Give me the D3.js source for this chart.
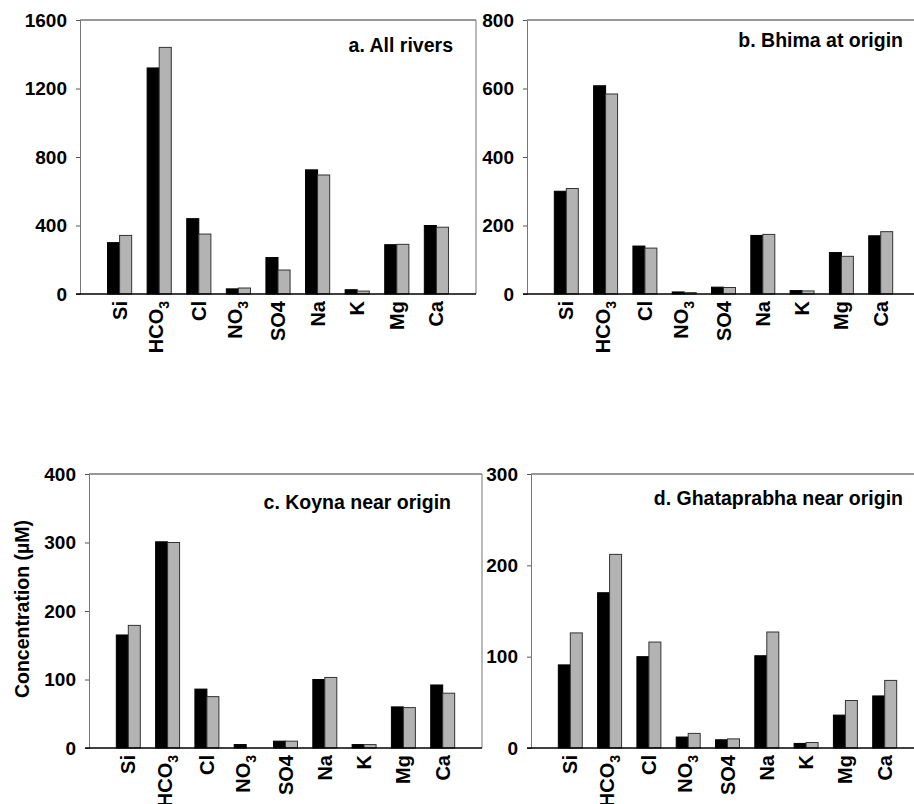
<!DOCTYPE html>
<html>
<head>
<meta charset="utf-8">
<script src="https://cdn.jsdelivr.net/npm/d3@7"></script>
<style>
  body { margin: 0; background: #fff; }
  svg { display: block; }
  text { font-family: Arial, "Liberation Sans", sans-serif; font-weight: bold; fill: #000; }
</style>
</head>
<body>
<svg width="914" height="804"></svg>
<script>
// ions on the x axis (main text + subscript)
let ions = ["Si", "HCO3", "Cl", "NO3", "SO4", "Na", "K", "Mg", "Ca"];
let ionMain = ["Si", "HCO", "Cl", "NO", "SO4", "Na", "K", "Mg", "Ca"];
let ionSub = ["", "3", "", "3", "", "", "", "", ""];

// two series per panel: black bars and grey bars
let allRiversBlack = [300, 1320, 440, 30, 213, 725, 25, 288, 400];
let allRiversGrey = [342, 1440, 350, 35, 140, 695, 17, 290, 390];
let bhimaBlack = [300, 608, 140, 6, 20, 171, 10, 121, 170];
let bhimaGrey = [308, 584, 134, 4, 19, 174, 9, 110, 182];
let koynaBlack = [165, 301, 86, 5, 10, 100, 5, 60, 92];
let koynaGrey = [179, 300, 75, 0, 10, 103, 5, 59, 80];
let ghatBlack = [91, 170, 100, 12, 9, 101, 5, 36, 57];
let ghatGrey = [126, 212, 116, 16, 10, 127, 6, 52, 74];

let ticksA = [0, 400, 800, 1200, 1600];
let ticksB = [0, 200, 400, 600, 800];
let ticksC = [0, 100, 200, 300, 400];
let ticksD = [0, 100, 200, 300];

let titles = ["a. All rivers", "b. Bhima at origin", "c. Koyna near origin", "d. Ghataprabha near origin"];

let svg = d3.select("svg");

// panel placement
let panels = [
    { black: allRiversBlack, grey: allRiversGrey, ticks: ticksA, title: titles[0],
      x0: 80, w: 396, top: 20, base: 294, titleX: 453, titleY: 52, rightLine: true },
    { black: bhimaBlack, grey: bhimaGrey, ticks: ticksB, title: titles[1],
      x0: 527, w: 393, top: 20, base: 294, titleX: 903, titleY: 47, rightLine: false },
    { black: koynaBlack, grey: koynaGrey, ticks: ticksC, title: titles[2],
      x0: 89, w: 393, top: 474, base: 748, titleX: 451, titleY: 509, rightLine: true },
    { black: ghatBlack, grey: ghatGrey, ticks: ticksD, title: titles[3],
      x0: 531, w: 393, top: 474, base: 748, titleX: 903, titleY: 505, rightLine: false }
];

panels.forEach(function (p) {
    let g = svg.append("g");
    let step = p.w / 10;

    let xScale = d3.scaleBand()
        .domain(ions)
        .range([p.x0 + step / 2, p.x0 + p.w - step / 2])
        .paddingInner(0.39)
        .paddingOuter(0.195);

    let xSub = d3.scaleBand()
        .domain(["black", "grey"])
        .range([0, xScale.bandwidth()]);

    let yScale = d3.scaleLinear()
        .domain([0, d3.max(p.ticks)])
        .range([p.base, p.top]);

    // frame: top and right
    g.append("line")
        .attr("x1", p.x0).attr("x2", p.x0 + p.w)
        .attr("y1", p.top).attr("y2", p.top)
        .attr("stroke", "#333").attr("stroke-width", 1);
    if (p.rightLine) {
        g.append("line")
            .attr("x1", p.x0 + p.w).attr("x2", p.x0 + p.w)
            .attr("y1", p.top).attr("y2", p.base)
            .attr("stroke", "#777").attr("stroke-width", 1);
    }

    // y axis
    let yAxis = d3.axisLeft(yScale)
        .tickValues(p.ticks)
        .tickSize(4)
        .tickPadding(9)
        .tickFormat(d3.format("d"));

    let ya = g.append("g")
        .attr("transform", "translate(" + p.x0 + ",0)")
        .call(yAxis);
    ya.select(".domain").attr("stroke", "#777");
    ya.selectAll(".tick line").attr("stroke", "#555");
    ya.selectAll("text")
        .style("font-size", "19px")
        .style("font-family", "Arial, 'Liberation Sans', sans-serif")
        .style("font-weight", "bold")
        .attr("fill", "#000");

    // bars
    let rows = ions.map(function (ion, i) {
        return { ion: ion, black: p.black[i], grey: p.grey[i] };
    });

    let groups = g.selectAll(".ion")
        .data(rows)
        .enter().append("g")
        .attr("class", "ion")
        .attr("transform", d => "translate(" + xScale(d.ion) + ",0)");

    groups.selectAll("rect")
        .data(d => [{ key: "black", v: d.black }, { key: "grey", v: d.grey }])
        .enter().append("rect")
        .filter(d => d.v > 0)
        .attr("x", d => xSub(d.key))
        .attr("y", d => yScale(d.v))
        .attr("width", xSub.bandwidth())
        .attr("height", d => p.base - yScale(d.v))
        .attr("fill", d => d.key == "black" ? "#000" : "#b3b3b3")
        .attr("stroke", d => d.key == "black" ? "#000" : "#333")
        .attr("stroke-width", 1);

    // baseline
    g.append("line")
        .attr("x1", p.x0 - 4).attr("x2", p.x0 + p.w)
        .attr("y1", p.base).attr("y2", p.base)
        .attr("stroke", "#000").attr("stroke-width", 1.5);

    // rotated category labels
    ions.forEach(function (ion, i) {
        let cx = xScale(ion) + xScale.bandwidth() / 2;
        let hasSub = ionSub[i] != "";
        let t = g.append("text")
            .attr("transform", "translate(" + (cx - (hasSub ? 3 : 0)) + "," + (p.base + 7) + ") rotate(-90)")
            .attr("text-anchor", "end")
            .attr("dy", "0.35em")
            .style("font-size", "20px");
        t.append("tspan").text(ionMain[i]);
        if (hasSub) {
            t.append("tspan")
                .attr("dy", 6)
                .style("font-size", "14px")
                .text(ionSub[i]);
        }
    });

    // panel title
    g.append("text")
        .attr("x", p.titleX)
        .attr("y", p.titleY)
        .attr("text-anchor", "end")
        .style("font-size", "19.5px")
        .text(p.title);
});

// y axis title
svg.append("text")
    .attr("transform", "translate(22,609) rotate(-90)")
    .attr("text-anchor", "middle")
    .attr("dy", "0.35em")
    .style("font-size", "19.5px")
    .text("Concentration (\u00b5M)");
</script>
</body>
</html>
